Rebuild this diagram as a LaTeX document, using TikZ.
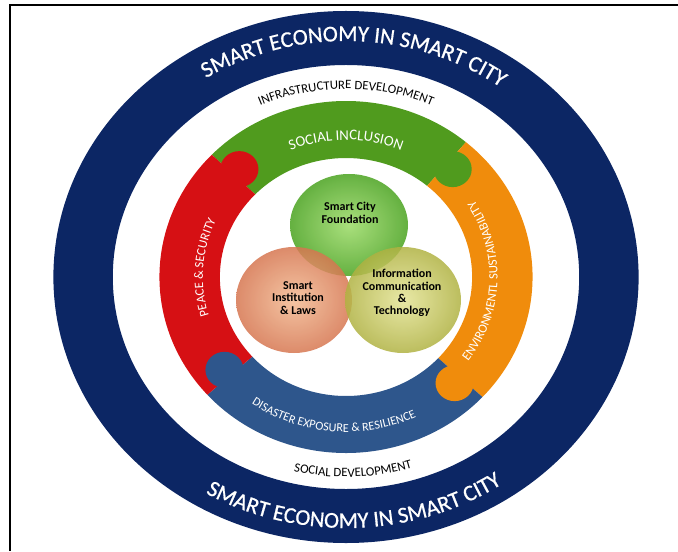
\documentclass[tikz,border=0pt]{standalone}
\usepackage{fontspec}
\setmainfont{Carlito}
\newfontfamily\heavyfont[FakeBold=0.7]{Carlito}
\usetikzlibrary{decorations.text}

\definecolor{navyring}{RGB}{12,38,100}
\definecolor{bandgreen}{RGB}{80,155,30}
\definecolor{bandred}{RGB}{214,16,20}
\definecolor{bandorange}{RGB}{240,140,12}
\definecolor{bandblue}{RGB}{46,86,140}

\newcommand\outerfont{\heavyfont\fontsize{11.3}{13}\selectfont\color{white}}
\newcommand\whitefont{\fontsize{6.4}{8}\selectfont\color{black}}
\newcommand\bandfont{\fontsize{6.4}{8}\selectfont\color{white}}

\tikzset{
  ringtext/.style={decorate, decoration={text along path, text align=center, text={#1}}},
  venntext/.style={align=center, inner sep=0pt, font=\bfseries\fontsize{6}{6.2}\selectfont},
}

\begin{document}
\begin{tikzpicture}[x=0.5pt,y=0.5pt]
\useasboundingbox (-346,-274) rectangle (332,277);
% frame
\draw[line width=1.2pt] (-336,-274) -- (-336,272) -- (332,272);

% outer ring
\begin{scope}[xscale=1.1]
\fill[navyring,even odd rule] (0,0) circle[radius=266] (0,0) circle[radius=212];
\path[ringtext={|\outerfont|SMART ECONOMY IN SMART CITY}] (135:236) arc[start angle=135, end angle=41, radius=236];
\path[ringtext={|\outerfont|SMART ECONOMY IN SMART CITY}] (225:251) arc[start angle=225, end angle=319, radius=251];
\path[ringtext={|\whitefont|INFRASTRUCTURE DEVELOPMENT}] (140:188) arc[start angle=140, end angle=40, radius=188];
\path[ringtext={|\whitefont|SOCIAL DEVELOPMENT}] (222:200) arc[start angle=222, end angle=322, radius=200];
\end{scope}

% puzzle band
\begin{scope}[xscale=1.06]
\foreach \a/\b/\c in {136/50/bandgreen, 50/-43/bandorange, -43/-138/bandblue, 222/136/bandred}
  \fill[\c] (\a:176) arc[start angle=\a, end angle=\b, radius=176] -- (\b:119) arc[start angle=\b, end angle=\a, radius=119] -- cycle;
\foreach \b/\c in {50/bandgreen, -43/bandorange, -138/bandblue, 136/bandred}
  \fill[\c] ({\b-3}:147.5) circle[radius=18];
\path[ringtext={|\fontsize{7.4}{9}\selectfont\color{white}|SOCIAL INCLUSION}] (140:137) arc[start angle=140, end angle=40, radius=137];
\path[ringtext={|\bandfont|PEACE {\&} SECURITY}] (230:135) arc[start angle=230, end angle=122, radius=135];
\path[ringtext={|\bandfont|ENVIRONMENTL SUSTAINABILITY}] (-60:143) arc[start angle=-60, end angle=56, radius=143];
\path[ringtext={|\fontsize{6.1}{8}\selectfont\color{white}|DISASTER EXPOSURE {\&} RESILIENCE}] (210:155) arc[start angle=210, end angle=320, radius=155];
\end{scope}

% venn circles
\shade[inner color={rgb,255:red,160;green,220;blue,110}, outer color={rgb,255:red,84;green,168;blue,44}, fill opacity=0.9] (3,52) ellipse[x radius=59, y radius=51];
\shade[inner color={rgb,255:red,242;green,186;blue,146}, outer color={rgb,255:red,214;green,118;blue,80}, fill opacity=0.85] (-52,-23) ellipse[x radius=58, y radius=53];
\shade[inner color={rgb,255:red,228;green,228;blue,150}, outer color={rgb,255:red,176;green,178;blue,66}, fill opacity=0.85] (57,-23) ellipse[x radius=58, y radius=53];

\node[venntext] (foundation) at (4,64) {Smart City\\Foundation};
\node[venntext] (institution) at (-48,-21) {Smart\\Institution\\\& Laws};
\node[venntext] (ict) at (56,-16) {Information\\Communication\\\&\\Technology};
\end{tikzpicture}
\end{document}
